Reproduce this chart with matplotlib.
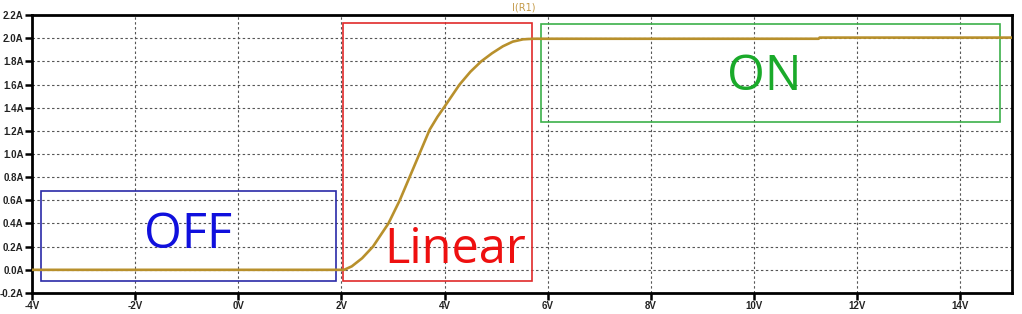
import matplotlib
matplotlib.use("Agg")
import matplotlib.pyplot as plt
from matplotlib.patches import Rectangle

# I(R1) vs sweep voltage
volts = [-4.0, 2.05, 2.2, 2.4, 2.61, 2.91, 3.13, 3.33, 3.52, 3.71, 3.86,
         4.0, 4.29, 4.5, 4.71, 4.92, 5.13, 5.32, 5.52, 5.72, 11.25, 11.27, 15.0]
amps = [0.0, 0.0, 0.03, 0.10, 0.20, 0.40, 0.60, 0.81, 1.01, 1.21, 1.32,
        1.41, 1.60, 1.71, 1.80, 1.87, 1.93, 1.97, 1.99, 1.995, 1.995, 2.005, 2.005]

x_ticks = [-4, -2, 0, 2, 4, 6, 8, 10, 12, 14]
y_ticks = [-0.2, 0.0, 0.2, 0.4, 0.6, 0.8, 1.0, 1.2, 1.4, 1.6, 1.8, 2.0, 2.2]

# operating regions: name, v_from, v_to, i_from, i_to
regions = [("OFF", -3.83, 1.89, -0.10, 0.68),
           ("Linear", 2.03, 5.69, -0.10, 2.13),
           ("ON", 5.86, 14.76, 1.28, 2.12)]
region_edge = {"OFF": "#2a2aa8", "Linear": "#e02a2a", "ON": "#3cb04a"}
region_text = {"OFF": "#1010dd", "Linear": "#ee1010", "ON": "#1aaa2a"}
label_pos = {"OFF": (-0.98, 0.295), "Linear": (4.2, 0.17), "ON": (10.2, 1.66)}

trace_color = "#b8902c"

fig = plt.figure(figsize=(10.22, 3.14), dpi=100)
ax = fig.add_axes([0.0313, 0.0669, 0.9589, 0.8853])

ax.plot(volts, amps, color=trace_color, lw=1.9, zorder=3,
        solid_joinstyle="round", solid_capstyle="round")

for name, x0, x1, y0, y1 in regions:
    ax.add_patch(Rectangle((x0, y0), x1 - x0, y1 - y0, fill=False,
                           ec=region_edge[name], lw=1.2, zorder=2))
    tx, ty = label_pos[name]
    ax.text(tx, ty, name, color=region_text[name], fontsize=35,
            family="Open Sans", ha="center", va="center", zorder=4)

ax.set_xlim(-4, 15)
ax.set_ylim(-0.2, 2.2)
ax.set_xticks(x_ticks)
ax.set_xticklabels([f"{v}V" for v in x_ticks])
ax.set_yticks(y_ticks)
ax.set_yticklabels([f"{v:.1f}A" for v in y_ticks])

ax.grid(True, color="#555555", lw=0.8, linestyle=(0, (2.2, 2.2)))
ax.set_axisbelow(True)
for s in ax.spines.values():
    s.set_linewidth(2.0)
ax.tick_params(direction="out", length=5, width=1.8, pad=1,
               labelsize=7, colors="black")
for lab in ax.get_xticklabels() + ax.get_yticklabels():
    lab.set_fontweight("bold")
    lab.set_family("Liberation Sans")
    lab.set_color("#222222")

fig.text(0.512, 0.977, "I(R1)", color="#c49a48", fontsize=7,
         ha="center", va="center")

fig.savefig("out.png", dpi=100)
